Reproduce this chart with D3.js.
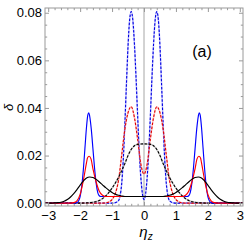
<!DOCTYPE html>
<html><head><meta charset="utf-8">
<script src="https://cdn.jsdelivr.net/npm/d3@7"></script>
<style>body{margin:0;background:#fff}svg{display:block}</style>
</head><body>
<svg id="c" width="249" height="249"></svg>
<script>
// ---- data ----
const xTicks = [-3, -2, -1, 0, 1, 2, 3];
const yTicks = [0, 0.02, 0.04, 0.06, 0.08];

const blueSolidX = [-3.1,-2.2,-2.1,-2.05,-2.0,-1.95,-1.9,-1.85,-1.8,-1.76,-1.73,-1.7,-1.65,-1.6,-1.55,-1.5,-1.45,-1.4,-1.35,0,1.35,1.4,1.45,1.5,1.55,1.6,1.65,1.7,1.73,1.76,1.8,1.85,1.9,1.95,2.0,2.05,2.1,2.2,3.1];
const blueSolidY = [0,0,0.0002,0.0009,0.0027,0.007,0.014,0.023,0.032,0.037,0.038,0.0365,0.031,0.023,0.015,0.0085,0.0045,0.0031,0.0028,0.0028,0.0028,0.0031,0.0045,0.0085,0.015,0.023,0.031,0.0365,0.038,0.037,0.032,0.023,0.014,0.007,0.0027,0.0009,0.0002,0,0];

const redSolidX = [-3.1,-2.3,-2.2,-2.1,-2.0,-1.9,-1.8,-1.77,-1.72,-1.66,-1.6,-1.5,-1.4,-1.3,-1.2,0,1.2,1.3,1.4,1.5,1.6,1.66,1.72,1.77,1.8,1.9,2.0,2.1,2.2,2.3,3.1];
const redSolidY = [0,0,0.0002,0.0010,0.0037,0.0095,0.0170,0.0190,0.0197,0.0186,0.0145,0.0090,0.0050,0.0033,0.0028,0.0028,0.0028,0.0033,0.0050,0.0090,0.0145,0.0186,0.0197,0.0190,0.0170,0.0095,0.0037,0.0010,0.0002,0,0];

const blackSolidX = [-3.1,-2.9,-2.8,-2.7,-2.6,-2.5,-2.4,-2.3,-2.2,-2.1,-2.0,-1.9,-1.8,-1.7,-1.6,-1.5,-1.4,-1.3,-1.2,-1.1,-1.0,-0.9,-0.8,-0.7,-0.6,0,0.6,0.7,0.8,0.9,1.0,1.1,1.2,1.3,1.4,1.5,1.6,1.7,1.8,1.9,2.0,2.1,2.2,2.3,2.4,2.5,2.6,2.7,2.8,2.9,3.1];
const blackSolidY = [0,0,0.0001,0.0002,0.0004,0.0008,0.0015,0.0026,0.0040,0.0057,0.0076,0.0093,0.0106,0.0110,0.0108,0.0100,0.0089,0.0077,0.0065,0.0054,0.0045,0.0038,0.0033,0.0030,0.0028,0.0028,0.0028,0.0030,0.0033,0.0038,0.0045,0.0054,0.0065,0.0077,0.0089,0.0100,0.0108,0.0110,0.0106,0.0093,0.0076,0.0057,0.0040,0.0026,0.0015,0.0008,0.0004,0.0002,0.0001,0,0];

const blueDashX = [-3.1,-1.0,-0.9,-0.8,-0.75,-0.7,-0.65,-0.6,-0.55,-0.5,-0.45,-0.4,-0.35,-0.3,-0.25,-0.2,-0.15,-0.1,-0.05,0,0.05,0.1,0.15,0.2,0.25,0.3,0.35,0.4,0.45,0.5,0.55,0.6,0.65,0.7,0.75,0.8,0.9,1.0,3.1];
const blueDashY = [0,0,0.0002,0.001,0.003,0.008,0.018,0.033,0.050,0.066,0.077,0.0805,0.077,0.067,0.053,0.037,0.022,0.011,0.004,0.0015,0.004,0.011,0.022,0.037,0.053,0.067,0.077,0.0805,0.077,0.066,0.050,0.033,0.018,0.008,0.003,0.001,0.0002,0,0];

const redDashX = [-3.1,-1.4,-1.2,-1.1,-1.0,-0.9,-0.8,-0.7,-0.6,-0.5,-0.4,-0.3,-0.2,-0.1,0,0.1,0.2,0.3,0.4,0.5,0.6,0.7,0.8,0.9,1.0,1.1,1.2,1.4,3.1];
const redDashY = [0,0,0.0001,0.0005,0.0015,0.004,0.0095,0.020,0.031,0.038,0.0405,0.036,0.027,0.0165,0.0122,0.0165,0.027,0.036,0.0405,0.038,0.031,0.020,0.0095,0.004,0.0015,0.0005,0.0001,0,0];

const blackDashX = [-3.1,-2.0,-1.8,-1.6,-1.4,-1.3,-1.2,-1.1,-1.0,-0.9,-0.8,-0.7,-0.6,-0.5,-0.4,-0.3,-0.2,0,0.2,0.3,0.4,0.5,0.6,0.7,0.8,0.9,1.0,1.1,1.2,1.3,1.4,1.6,1.8,2.0,3.1];
const blackDashY = [0,0,0.0001,0.0004,0.0011,0.0019,0.0030,0.0045,0.0063,0.0084,0.0108,0.0136,0.0166,0.0200,0.0226,0.0241,0.0247,0.0249,0.0247,0.0241,0.0226,0.0200,0.0166,0.0136,0.0108,0.0084,0.0063,0.0045,0.0030,0.0019,0.0011,0.0004,0.0001,0,0];

// ---- layout ----
const L = 45, R = 243, T = 8, B = 206;
const x = d3.scaleLinear().domain([-3.1, 3.1]).range([L, R]);
const y = d3.scaleLinear().domain([-0.0012, 0.082]).range([B, T]);
const svg = d3.select("#c");
const font = "'Liberation Sans', Arial, sans-serif";
const frameCol = "#9a9a9a";

svg.append("defs").append("clipPath").attr("id","clip")
  .append("rect").attr("x",L).attr("y",T).attr("width",R-L).attr("height",B-T);

// vertical zero line
svg.append("line").attr("x1",x(0)).attr("x2",x(0)).attr("y1",T).attr("y2",B)
  .attr("stroke","#a6a6a6").attr("stroke-width",1);

const line = d3.line().x(d=>x(d[0])).y(d=>y(d[1])).curve(d3.curveMonotoneX);
const g = svg.append("g").attr("clip-path","url(#clip)");

function dashed(xs, ys, col, light){
  const d = d3.zip(xs, ys);
  g.append("path").attr("d", line(d)).attr("fill","none")
    .attr("stroke", light).attr("stroke-width",1.5).attr("stroke-opacity",0.55);
  g.append("path").attr("d", line(d)).attr("fill","none")
    .attr("stroke", col).attr("stroke-width",1.1).attr("stroke-dasharray","2.5,1.6");
}
function solid(xs, ys, col){
  g.append("path").attr("d", line(d3.zip(xs, ys))).attr("fill","none")
    .attr("stroke", col).attr("stroke-width",1.15);
}
dashed(blueDashX, blueDashY, "#0000e0", "#8c8cff");
dashed(redDashX, redDashY, "#e00000", "#ff9090");
dashed(blackDashX, blackDashY, "#000", "#999");
solid(blueSolidX, blueSolidY, "#0000ff");
solid(redSolidX, redSolidY, "#ff0000");
solid(blackSolidX, blackSolidY, "#000");

// frame
svg.append("rect").attr("x",L).attr("y",T).attr("width",R-L).attr("height",B-T)
  .attr("fill","none").attr("stroke",frameCol).attr("stroke-width",1);

// axes
const xMinor = d3.range(-30, 31, 2).map(v=>v/10).filter(v=>!xTicks.includes(v));
const yMinor = d3.range(0, 81, 5).map(v=>v/1000).filter(v=>!yTicks.some(t=>Math.abs(t-v)<1e-9));

function styleAxis(sel){
  sel.select(".domain").remove();
  sel.selectAll("line").attr("stroke",frameCol);
  sel.selectAll("text").attr("fill","#000").style("font-family",font).style("font-size","13px");
}
svg.append("g").attr("transform",`translate(0,${B})`)
  .call(d3.axisBottom(x).tickValues(xTicks).tickSize(-4).tickPadding(5).tickFormat(d3.format("d"))).call(styleAxis);
svg.append("g").attr("transform",`translate(0,${B})`)
  .call(d3.axisBottom(x).tickValues(xMinor).tickSize(-2.2).tickFormat("")).call(styleAxis);
svg.append("g").attr("transform",`translate(0,${T})`)
  .call(d3.axisTop(x).tickValues(xTicks).tickSize(-4).tickFormat("")).call(styleAxis);
svg.append("g").attr("transform",`translate(0,${T})`)
  .call(d3.axisTop(x).tickValues(xMinor).tickSize(-2.2).tickFormat("")).call(styleAxis);
svg.append("g").attr("transform",`translate(${L},0)`)
  .call(d3.axisLeft(y).tickValues(yTicks).tickSize(-4).tickPadding(3).tickFormat(d3.format(".2f"))).call(styleAxis);
svg.append("g").attr("transform",`translate(${L},0)`)
  .call(d3.axisLeft(y).tickValues(yMinor).tickSize(-2.2).tickFormat("")).call(styleAxis);
svg.append("g").attr("transform",`translate(${R},0)`)
  .call(d3.axisRight(y).tickValues(yTicks).tickSize(-4).tickFormat("")).call(styleAxis);
svg.append("g").attr("transform",`translate(${R},0)`)
  .call(d3.axisRight(y).tickValues(yMinor).tickSize(-2.2).tickFormat("")).call(styleAxis);

// labels
svg.append("text").attr("x",202).attr("y",57).attr("text-anchor","middle")
  .style("font-family",font).style("font-size","16px").text("(a)");
svg.append("text").attr("transform","translate(13,107.5) rotate(-90)").attr("text-anchor","middle")
  .style("font-family",font).style("font-size","13px").style("font-style","italic").text("δ");
const xl = svg.append("text").attr("x",146).attr("y",237).attr("text-anchor","middle")
  .style("font-family",font).style("font-style","italic");
xl.append("tspan").style("font-size","15px").text("η");
xl.append("tspan").style("font-size","10px").attr("dy",3).text("z");
</script>
</body></html>
